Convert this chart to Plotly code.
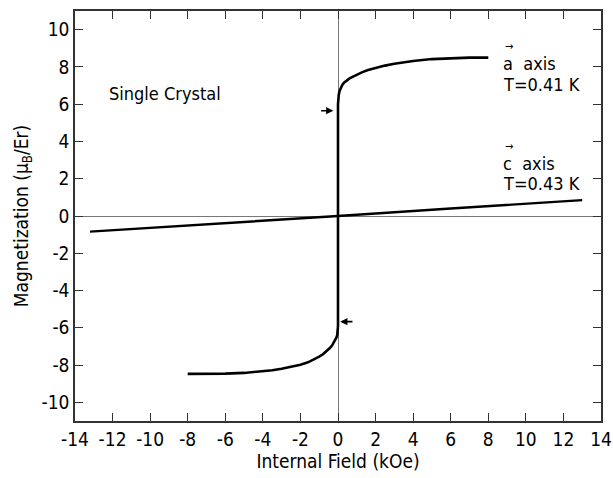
import plotly.graph_objects as go

# a-axis magnetization curve (T = 0.41 K)
a_H = [-8.0, -7.0, -6.0, -5.0, -4.0, -3.5, -3.0, -2.5, -2.0, -1.6, -1.3, -1.0, -0.8, -0.6,
       -0.45, -0.32, -0.22, -0.14, -0.08, -0.04, -0.015, 0.0,
       0.0, 0.015, 0.04, 0.08, 0.14, 0.22, 0.32, 0.45, 0.6, 0.8, 1.0, 1.3, 1.6, 2.0, 2.5,
       3.0, 3.5, 4.0, 5.0, 6.0, 7.0, 8.0]
a_M = [-8.47, -8.48, -8.46, -8.42, -8.34, -8.28, -8.2, -8.1, -7.98, -7.85, -7.72, -7.55, -7.42, -7.25,
       -7.1, -6.95, -6.8, -6.66, -6.52, -6.38, -6.2, -5.9,
       6.0, 6.3, 6.5, 6.7, 6.88, 7.02, 7.15, 7.27, 7.37, 7.48, 7.58, 7.72, 7.83, 7.95, 8.07,
       8.17, 8.25, 8.32, 8.42, 8.48, 8.5, 8.5]

# c-axis magnetization line (T = 0.43 K)
c_H = [-13.2, -6.0, 0.0, 6.0, 13.0]
c_M = [-0.84, -0.40, 0.0, 0.40, 0.85]

# direction arrows on the a-axis curve (head H, tail H, M)
arrow_head_H = [-0.25, 0.12]
arrow_tail_H = [-0.98, 0.85]
arrow_M = [5.65, -5.67]

x_ticks = [-14, -12, -10, -8, -6, -4, -2, 0, 2, 4, 6, 8, 10, 12, 14]
x_ticktext = ["-14", "-12", "-10", "-8", "-6", "-4", "-2", "0", "2", "4", "6", "8", "10", "12", "14"]
y_ticks = [-10, -8, -6, -4, -2, 0, 2, 4, 6, 8, 10]
y_ticktext = ["-10", "-8", "-6", "-4", "-2", "0", "2", "4", "6", "8", "10"]

FONT = "DejaVu Sans Condensed, Liberation Sans Narrow, sans-serif"

fig = go.Figure()
fig.add_trace(go.Scatter(x=a_H, y=a_M, mode="lines", line=dict(color="black", width=2.6),
                         showlegend=False, hoverinfo="skip"))
fig.add_trace(go.Scatter(x=c_H, y=c_M, mode="lines", line=dict(color="black", width=2.4),
                         showlegend=False, hoverinfo="skip"))

for hh, ht, m in zip(arrow_head_H, arrow_tail_H, arrow_M):
    fig.add_annotation(x=hh, y=m, ax=ht, ay=m, xref="x", yref="y", axref="x", ayref="y",
                       text="", showarrow=True, arrowhead=2, arrowsize=0.9, arrowwidth=1.6,
                       arrowcolor="black")

labels = [
    ("Single Crystal", -12.3, 6.6),
    ("a  axis", 8.7, 8.2),
    ("T=0.41 K", 8.7, 7.05),
    ("c  axis", 8.7, 2.8),
    ("T=0.43 K", 8.7, 1.72),
]
for txt, xx, yy in labels:
    fig.add_annotation(x=xx, y=yy, xref="x", yref="y", text=txt, showarrow=False,
                       xanchor="left", yanchor="middle", font=dict(family=FONT, size=18, color="black"))

# vector arrows over "a" and "c"
for yy in [8.2, 2.8]:
    fig.add_annotation(x=8.78, y=yy + 0.45, xref="x", yref="y", text="→", showarrow=False,
                       xanchor="left", yanchor="bottom", font=dict(family=FONT, size=11, color="black"))

axis_common = dict(showgrid=False, ticks="inside", ticklen=8, tickwidth=1.2, tickcolor="#333",
                   showline=True, linecolor="#333", linewidth=1.5, mirror="ticks",
                   zeroline=True, zerolinecolor="#777", zerolinewidth=1, automargin=False,
                   tickfont=dict(family=FONT, size=19, color="black"))

fig.update_xaxes(range=[-14, 14], tickvals=x_ticks, ticktext=x_ticktext,
                 title=dict(text="Internal Field (kOe)", font=dict(family=FONT, size=19, color="black"), standoff=6),
                 **axis_common)
fig.update_yaxes(range=[-11, 11], tickvals=y_ticks, ticktext=y_ticktext,
                 title=dict(text="Magnetization (μ<sub>B</sub>/Er)", font=dict(family=FONT, size=19, color="black"), standoff=8),
                 **axis_common)

fig.update_layout(width=613, height=478, margin=dict(l=75, r=12, t=11, b=57, autoexpand=False),
                  plot_bgcolor="white", paper_bgcolor="white")

fig.write_html("out.html", config={"displayModeBar": False},
               post_script="document.body.style.margin='0';document.body.style.overflow='hidden';")
